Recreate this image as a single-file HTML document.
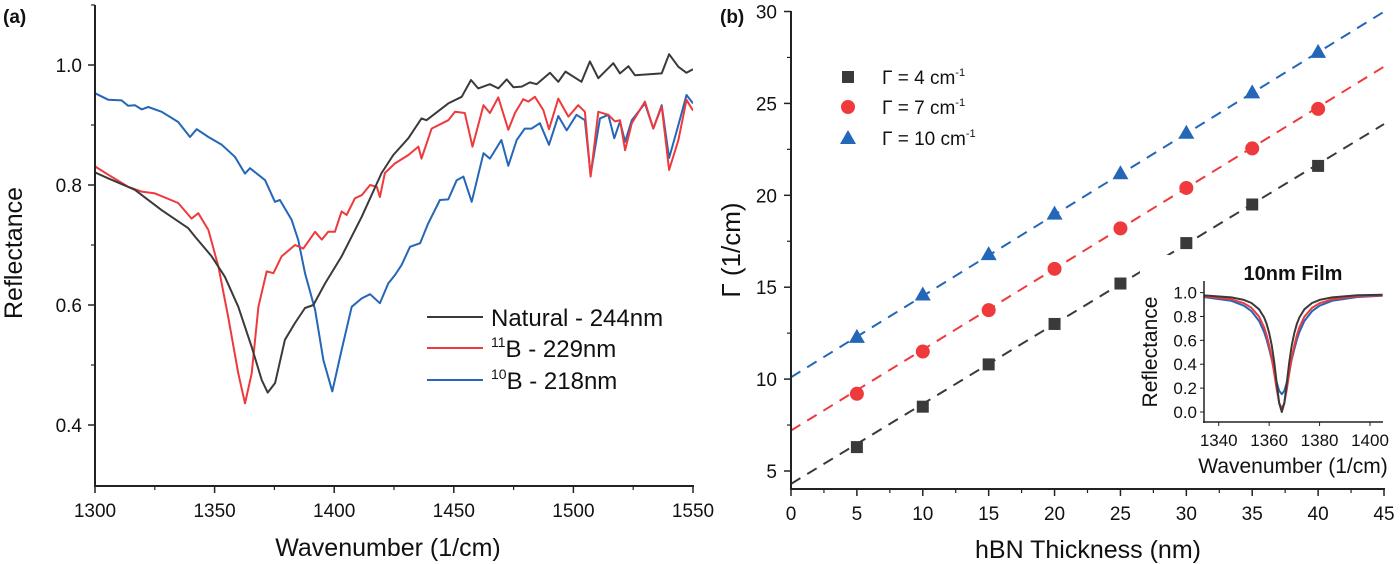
<!DOCTYPE html>
<html><head><meta charset="utf-8"><style>
html,body{margin:0;padding:0;background:#fff;}
svg{display:block;font-family:"Liberation Sans",sans-serif;}
</style></head><body>
<svg id="fig" width="1400" height="564" viewBox="0 0 1400 564">
<g id="pa"></g>
<g id="pb"></g>
<g id="pi"></g>
</svg>
<script>
// ---------- Panel (a) data ----------
const naturalWn=[1300,1305.6,1316.7,1327.9,1339,1341.8,1348.8,1354.3,1359.9,1365.5,1369.7,1372.2,1375.3,1379.4,1383.6,1387.8,1391.3,1396.2,1403.1,1411.5,1419.8,1424.7,1431,1436.5,1438.6,1447.7,1453.3,1457.2,1460.2,1465.1,1468.6,1472.1,1474.9,1478.4,1481.8,1484.6,1490.2,1493.7,1496.7,1503.4,1506.9,1510.4,1516.7,1519.5,1523,1525.7,1536.9,1540,1543.9,1547.3,1550];
const naturalR=[0.821,0.811,0.792,0.758,0.728,0.714,0.681,0.647,0.597,0.53,0.475,0.454,0.47,0.542,0.57,0.595,0.60,0.636,0.681,0.747,0.82,0.85,0.878,0.911,0.908,0.936,0.947,0.975,0.961,0.968,0.961,0.976,0.963,0.964,0.971,0.968,0.987,0.972,0.989,0.972,1.006,0.978,1.003,0.986,0.998,0.983,0.986,1.018,0.997,0.987,0.993];
const b11Wn=[1300,1305.6,1313.9,1319.5,1325.1,1334.8,1340.4,1343.2,1347.4,1351.6,1355.7,1359.9,1362.7,1365.5,1368.3,1371.8,1374.6,1378,1383.6,1387.1,1392,1394.8,1397.5,1400.3,1403.1,1405.2,1408.7,1411.5,1415,1417.8,1419.1,1421.2,1425.4,1431,1435.2,1436.5,1440.7,1447.7,1450.5,1454.6,1457.8,1462.4,1465.1,1468.6,1472.8,1475.6,1479,1481.2,1483.9,1487.4,1489.8,1493.7,1497.9,1502,1504.8,1507.2,1510.4,1514.6,1517.4,1519.5,1521.6,1524.4,1529.9,1533.4,1536.9,1540,1543.9,1547.3,1550];
const b11R=[0.831,0.817,0.797,0.789,0.786,0.77,0.744,0.753,0.725,0.664,0.58,0.486,0.436,0.486,0.597,0.656,0.653,0.681,0.70,0.694,0.722,0.709,0.722,0.722,0.756,0.75,0.778,0.783,0.80,0.797,0.78,0.82,0.836,0.85,0.864,0.844,0.894,0.908,0.922,0.92,0.864,0.933,0.92,0.946,0.892,0.92,0.943,0.939,0.947,0.925,0.893,0.944,0.914,0.933,0.922,0.814,0.922,0.917,0.906,0.908,0.858,0.903,0.939,0.894,0.931,0.825,0.875,0.942,0.924];
const b10Wn=[1300,1305.6,1311.1,1313.9,1316.7,1319.5,1322.3,1327.9,1334.8,1339.7,1342.5,1347.4,1353,1358.5,1362.7,1364.8,1371.1,1375.2,1377.3,1382.2,1385,1387.8,1392,1395.5,1399.2,1403.1,1407.3,1411.5,1415,1419.1,1422.6,1425.4,1428.2,1431.7,1435.9,1439.3,1444.2,1447.7,1451.2,1454,1457.5,1462.4,1465.1,1469.9,1472.8,1476.3,1479.7,1482.5,1486,1489.8,1493.7,1497.2,1501.3,1504.8,1507.2,1511.1,1514.6,1517.1,1519.5,1521.6,1524.4,1529.9,1533.4,1536.9,1540,1543.9,1547.3,1550];
const b10R=[0.953,0.942,0.941,0.932,0.933,0.926,0.93,0.922,0.905,0.88,0.893,0.88,0.867,0.847,0.819,0.828,0.808,0.772,0.775,0.742,0.708,0.653,0.592,0.508,0.456,0.525,0.597,0.611,0.618,0.603,0.636,0.65,0.667,0.697,0.703,0.736,0.775,0.776,0.808,0.814,0.772,0.853,0.844,0.875,0.832,0.875,0.894,0.894,0.903,0.867,0.915,0.891,0.917,0.908,0.817,0.911,0.917,0.878,0.906,0.872,0.908,0.936,0.894,0.933,0.845,0.90,0.95,0.936];
const aXTicks=[1300,1350,1400,1450,1500,1550];
const aYTicks=[0.4,0.6,0.8,1.0];

// ---------- Panel (b) data ----------
const thickness=[5,10,15,20,25,30,35,40];
const gamma4=[6.3,8.5,10.8,13.0,15.2,17.4,19.5,21.6];
const gamma7=[9.2,11.5,13.75,16.0,18.2,20.4,22.55,24.7];
const gamma10=[12.3,14.6,16.8,19.0,21.2,23.4,25.6,27.8];
const fitIntercept=[4.3,7.2,10.1];
const fitSlope=[0.435,0.44,0.442];
const bXTicks=[0,5,10,15,20,25,30,35,40,45];
const bYTicks=[5,10,15,20,25,30];

// ---------- Inset data ----------
const insetWn=[1334,1345,1350,1353,1356,1358,1359,1360,1361,1362,1363,1364,1365,1366,1367,1368,1369,1370,1371,1372,1374,1377,1380,1385,1395,1405];
const insetBlack=[0.977,0.96,0.939,0.913,0.86,0.792,0.739,0.664,0.56,0.42,0.244,0.074,0.0,0.074,0.244,0.42,0.56,0.664,0.739,0.792,0.86,0.913,0.939,0.96,0.977,0.982];
const insetRed=[0.969,0.944,0.911,0.872,0.798,0.709,0.644,0.56,0.454,0.325,0.19,0.075,0.03,0.075,0.19,0.325,0.454,0.56,0.644,0.709,0.798,0.872,0.911,0.944,0.969,0.978];
const insetBlue=[0.963,0.931,0.89,0.844,0.762,0.669,0.606,0.53,0.441,0.343,0.248,0.177,0.15,0.177,0.248,0.343,0.441,0.53,0.606,0.669,0.762,0.844,0.89,0.931,0.963,0.974];
const insetXTicks=[1340,1360,1380,1400];
const insetYTicks=[0,0.2,0.4,0.6,0.8,1.0];

const NS="http://www.w3.org/2000/svg";
function mk(parent,tag,attrs){const e=document.createElementNS(NS,tag);for(const k in attrs)e.setAttribute(k,attrs[k]);parent.appendChild(e);return e;}
function txt(parent,x,y,s,size,anchor,extra){const t=mk(parent,'text',Object.assign({x:x,y:y,'font-size':size,'text-anchor':anchor||'middle',fill:'#111'},extra||{}));t.textContent=s;return t;}
const BLACK='#3a3a3a',RED='#ee3a3c',BLUE='#2466b8';

// ===== Panel a =====
(function(){
const g=document.getElementById('pa');
const x=v=>95+(v-1300)/250*598;
const y=v=>65+(1.0-v)*600;
const cl=mk(g,'clipPath',{id:'clipA'});mk(cl,'rect',{x:95,y:0,width:598,height:487});
function series(wn,r,col,name){let d='';wn.forEach((w,i)=>{d+=(i?'L':'M')+x(w).toFixed(1)+','+y(r[i]).toFixed(1);});
const p=mk(g,'path',{d:d,fill:'none',stroke:col,'stroke-width':2,'clip-path':'url(#clipA)','stroke-linejoin':'round'});

}
series(b10Wn,b10R,BLUE,'series-10b');
series(b11Wn,b11R,RED,'series-11b');
series(naturalWn,naturalR,BLACK,'series-natural');
const ax=mk(g,'g',{});
mk(ax,'line',{x1:95,y1:5,x2:95,y2:487,stroke:'#222','stroke-width':2});
mk(ax,'line',{x1:94,y1:486,x2:694,y2:486,stroke:'#222','stroke-width':2});
aXTicks.forEach(v=>{mk(ax,'line',{x1:x(v),y1:486,x2:x(v),y2:493,stroke:'#222','stroke-width':1.5});const t=txt(ax,x(v),517,String(v),19);
 if(v<1550)mk(ax,'line',{x1:x(v+25),y1:486,x2:x(v+25),y2:490,stroke:'#222','stroke-width':1.2});});
aYTicks.forEach(v=>{mk(ax,'line',{x1:88,y1:y(v),x2:95,y2:y(v),stroke:'#222','stroke-width':1.5});const t=txt(ax,82,y(v)+7,v.toFixed(1),19,'end');
 mk(ax,'line',{x1:91,y1:y(v+0.1),x2:95,y2:y(v+0.1),stroke:'#222','stroke-width':1.2});});
let t=txt(g,388,556,'Wavenumber (1/cm)',25);
t=txt(g,22,253,'Reflectance',25,'middle',{transform:'rotate(-90 22 253)'});
t=txt(g,3,23,'(a)',19,'start',{'font-weight':'bold'});
const lg=mk(g,'g',{});
[[BLACK,317,'Natural - 244nm',null],[RED,348,'B - 229nm','11'],[BLUE,380,'B - 218nm','10']].forEach(e=>{
 const row=mk(lg,'g',{});
 mk(row,'line',{x1:427,y1:e[1],x2:483,y2:e[1],stroke:e[0],'stroke-width':2});
 const tt=mk(row,'text',{x:491,y:e[1]+9,'font-size':24,fill:'#111'});
 if(e[3]){const s=mk(tt,'tspan',{'font-size':14,dy:-10});s.textContent=e[3];const s2=mk(tt,'tspan',{dy:10});s2.textContent=e[2];}else tt.textContent=e[2];});
})();

// ===== Panel b =====
(function(){
const g=document.getElementById('pb');
const x=v=>791+v/45*593;
const y=v=>11.5+(30-v)*18.38;
const cl=mk(g,'clipPath',{id:'clipB'});mk(cl,'rect',{x:791,y:11,width:594,height:478});
const cols=[BLACK,RED,BLUE];
fitIntercept.forEach((b,i)=>{const l=mk(g,'line',{x1:x(0),y1:y(b),x2:x(45),y2:y(b+fitSlope[i]*45),stroke:cols[i],'stroke-width':2,'stroke-dasharray':'11 8','clip-path':'url(#clipB)'});
 
 });
function sq(p,cx,cy,c){return mk(p,'rect',{x:cx-6,y:cy-6,width:12,height:12,fill:c});}
function ci(p,cx,cy,c){return mk(p,'circle',{cx:cx,cy:cy,r:7,fill:c});}
function tr(p,cx,cy,c){return mk(p,'polygon',{points:`${cx},${cy-8} ${cx+8},${cy+6} ${cx-8},${cy+6}`,fill:c});}
const shapes=[sq,ci,tr];
[gamma4,gamma7,gamma10].forEach((arr,i)=>{arr.forEach((v,j)=>{const m=shapes[i](g,x(thickness[j]),y(v),cols[i]);
 
 });});
const ax=mk(g,'g',{});
mk(ax,'line',{x1:791,y1:11,x2:791,y2:490,stroke:'#222','stroke-width':2});
mk(ax,'line',{x1:790,y1:489,x2:1385,y2:489,stroke:'#222','stroke-width':2});
bXTicks.forEach(v=>{mk(ax,'line',{x1:x(v),y1:489,x2:x(v),y2:496,stroke:'#222','stroke-width':1.5});const t=txt(ax,x(v),520,String(v),19);
 if(v<45)mk(ax,'line',{x1:x(v+2.5),y1:489,x2:x(v+2.5),y2:493,stroke:'#222','stroke-width':1.2});});
bYTicks.forEach(v=>{mk(ax,'line',{x1:784,y1:y(v),x2:791,y2:y(v),stroke:'#222','stroke-width':1.5});const t=txt(ax,777,y(v)+7,String(v),19,'end');
 if(v<30)mk(ax,'line',{x1:787,y1:y(v+2.5),x2:791,y2:y(v+2.5),stroke:'#222','stroke-width':1.2});});
let t=txt(g,1088,558,'hBN Thickness (nm)',25);
t=txt(g,740,250,'Γ (1/cm)',26,'middle',{transform:'rotate(-90 740 250)'});
t=txt(g,720,23,'(b)',19,'start',{'font-weight':'bold'});
const lg=mk(g,'g',{});
[['4',77],['7',107],['10',138]].forEach((e,i)=>{const row=mk(lg,'g',{});
 shapes[i](row,848,e[1],cols[i]);
 const tt=mk(row,'text',{x:882,y:e[1]+7,'font-size':19,fill:'#111'});
 const a=mk(tt,'tspan',{});a.textContent='Γ = '+e[0]+' cm';const s=mk(tt,'tspan',{'font-size':11,dy:-8});s.textContent='-1';});
})();

// ===== Inset =====
(function(){
const g=document.getElementById('pi');
const x=v=>1203.6+(v-1334)/71*179;
const y=v=>412-v*119.4;
mk(g,'rect',{x:1140,y:255,width:258,height:225,fill:'#fff'});
const cl=mk(g,'clipPath',{id:'clipI'});mk(cl,'rect',{x:1204,y:278,width:179,height:144});
[[insetBlue,BLUE,'inset-series-blue'],[insetRed,RED,'inset-series-red'],[insetBlack,BLACK,'inset-series-black']].forEach(s=>{
 let d='';insetWn.forEach((w,i)=>{d+=(i?'L':'M')+x(w).toFixed(1)+','+y(s[0][i]).toFixed(1);});
 const p=mk(g,'path',{d:d,fill:'none',stroke:s[1],'stroke-width':2,'clip-path':'url(#clipI)','stroke-linejoin':'round'});
 
 });
const ax=mk(g,'g',{});
mk(ax,'line',{x1:1204,y1:281,x2:1204,y2:423,stroke:'#222','stroke-width':1.5});
mk(ax,'line',{x1:1203,y1:422,x2:1383,y2:422,stroke:'#222','stroke-width':1.5});
insetXTicks.forEach(v=>{mk(ax,'line',{x1:x(v),y1:422,x2:x(v),y2:426,stroke:'#222','stroke-width':1});const t=txt(ax,x(v),446,String(v),17);});
insetYTicks.forEach(v=>{mk(ax,'line',{x1:1200,y1:y(v),x2:1204,y2:y(v),stroke:'#222','stroke-width':1});const t=txt(ax,1197,y(v)+6,v.toFixed(1),17,'end');});
let t=txt(g,1293,473,'Wavenumber (1/cm)',21);
t=txt(g,1157,352,'Reflectance',21,'middle',{transform:'rotate(-90 1157 352)'});
t=txt(g,1293,280,'10nm Film',20,'middle',{'font-weight':'bold'});
})();
</script>
</body></html>
